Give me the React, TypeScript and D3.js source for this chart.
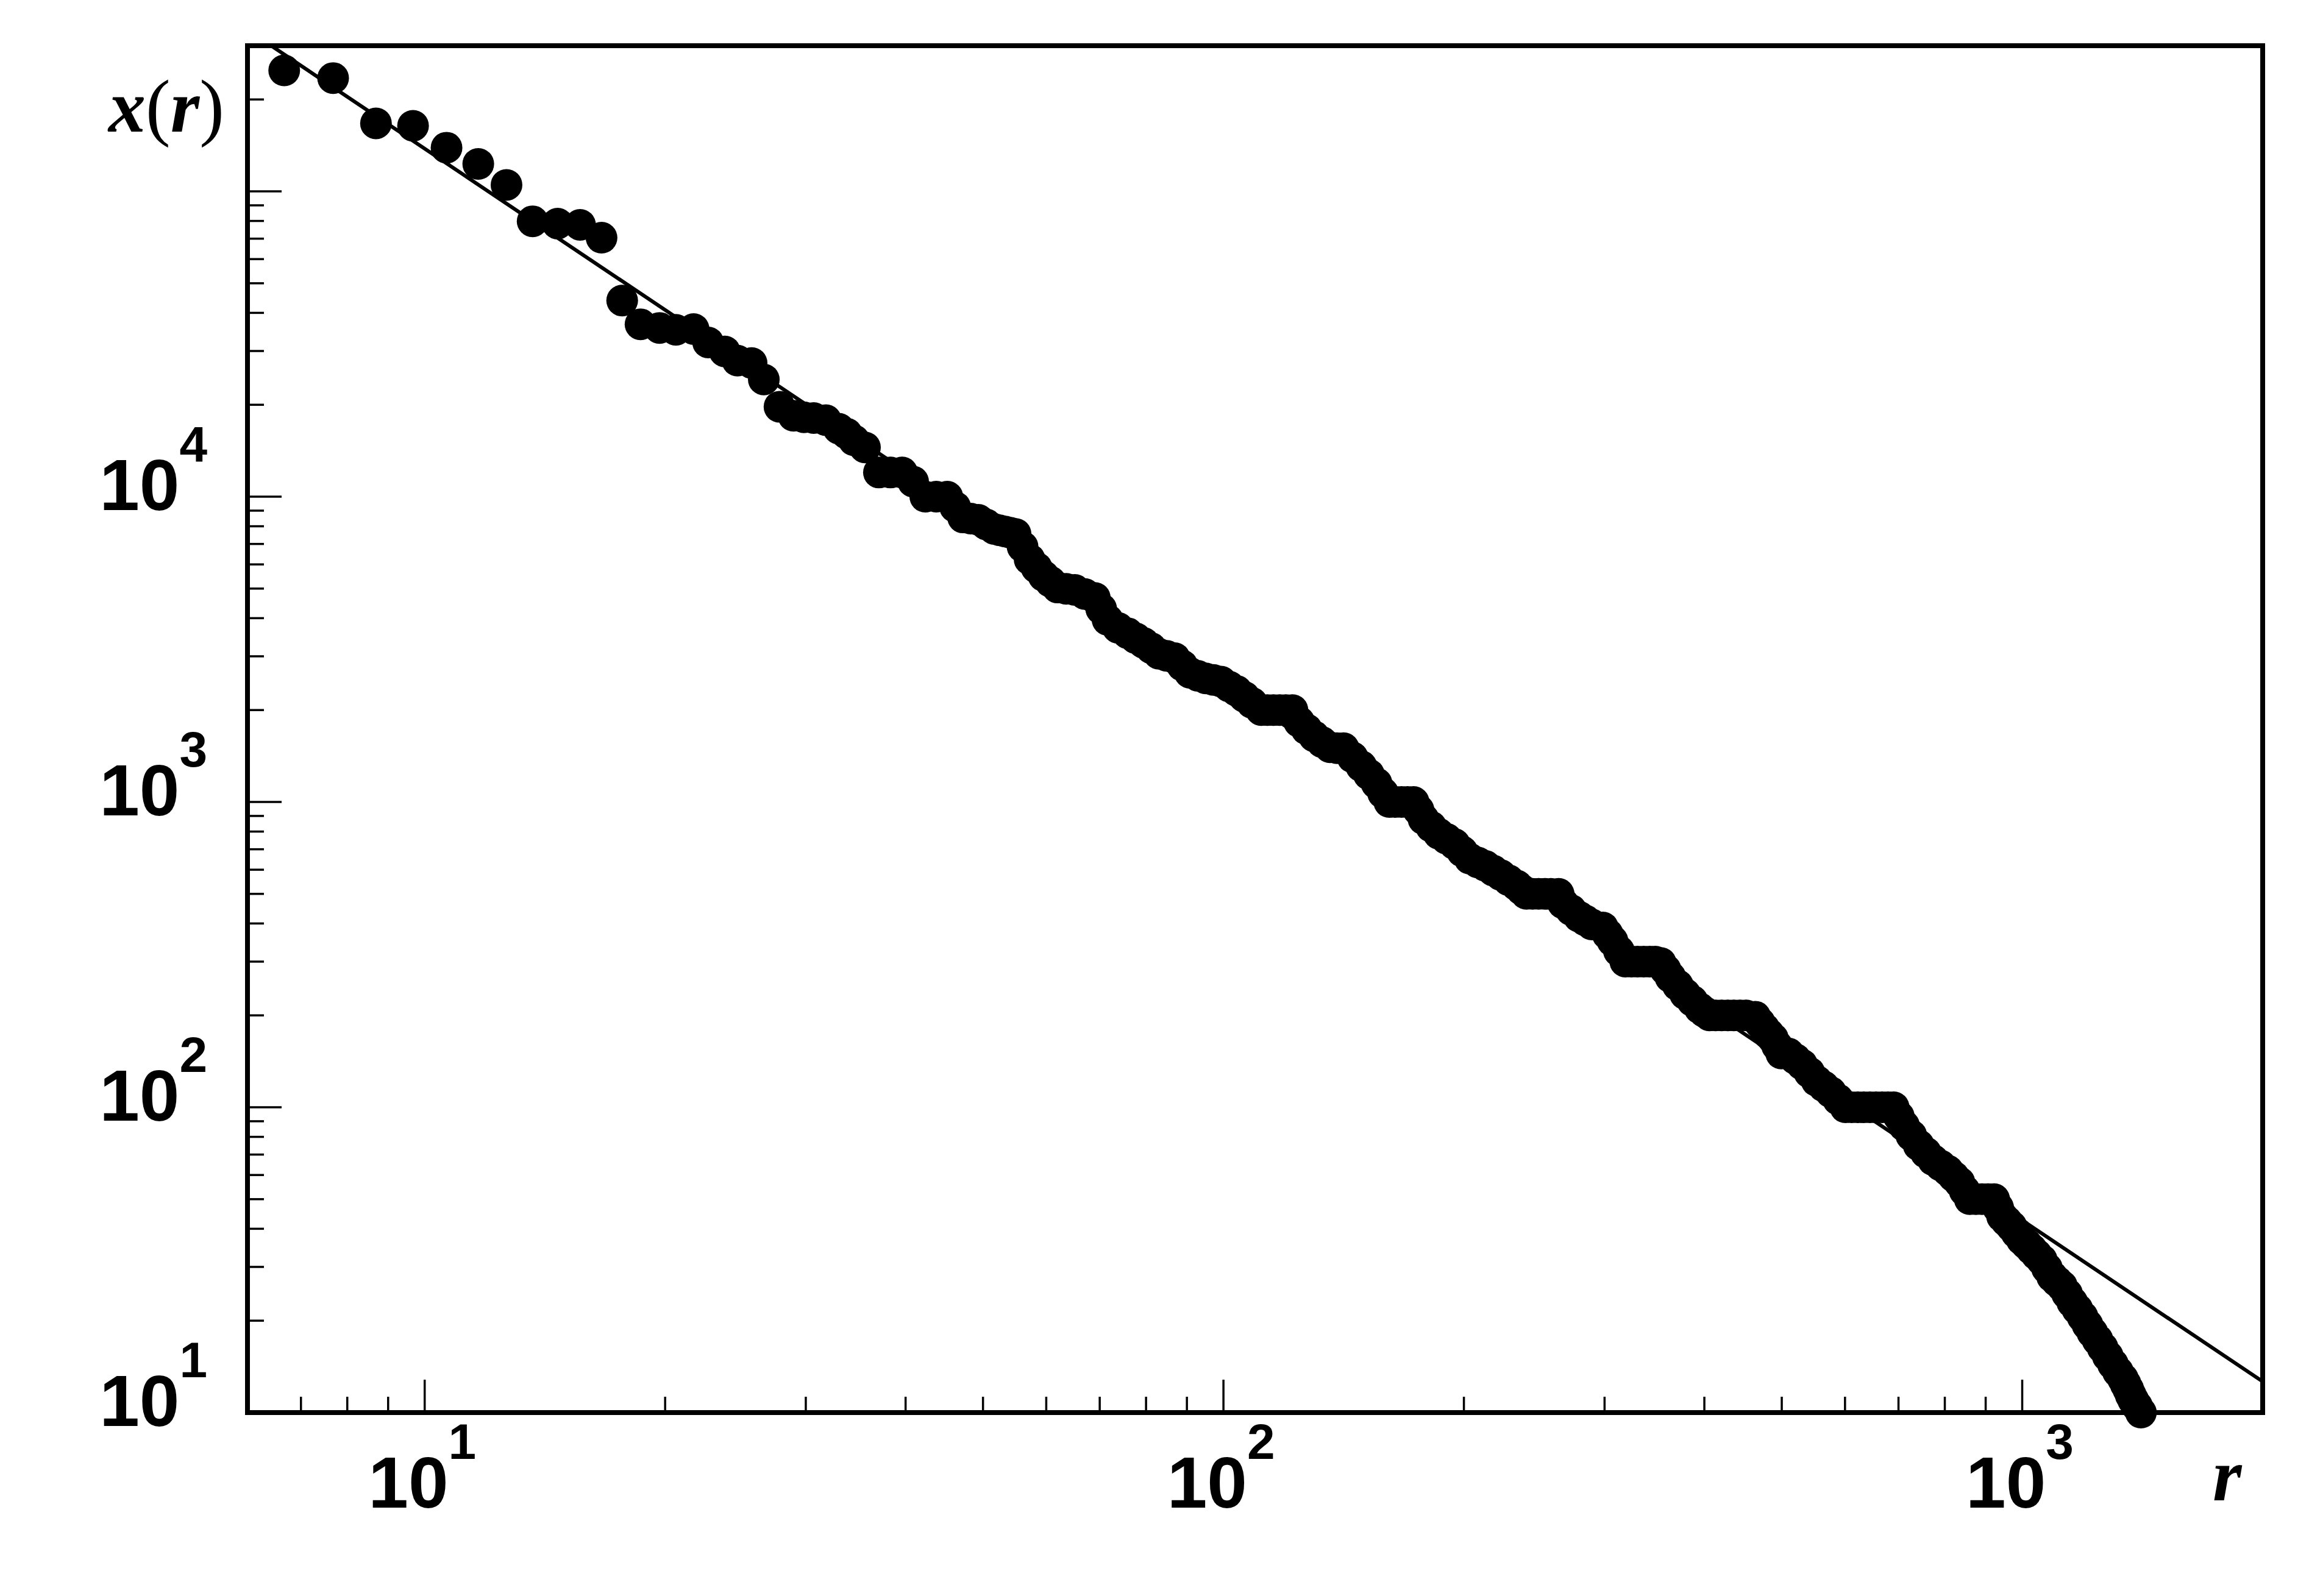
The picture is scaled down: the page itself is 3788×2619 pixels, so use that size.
import React from 'react';
import * as d3 from 'd3';

// Rank r (x axis) and size x(r) (y axis)
const ranks = [
  6.67, 7.68, 8.69, 9.67, 10.65, 11.67, 12.66, 13.65, 14.67, 15.65, 16.65,
  17.67, 18.63, 19.68, 20.63, 21.71, 22.64, 23.75, 24.64, 25.66, 26.58,
  27.81, 28.96, 29.84, 30.69, 31.79, 32.99, 33.75, 34.47, 35.58, 37.04,
  38.3, 39.6, 40.88, 42.34, 43.7, 45.11, 46.15, 47.21, 48.26, 49.33,
  50.47, 51.64, 52.46, 53.3, 54.1, 54.92, 56.04, 57.19, 58.36, 59.55,
  60.76, 62.0, 63.55, 65.13, 67.05, 69.02, 70.3, 71.6, 73.78, 75.89,
  77.64, 79.43, 81.19, 82.99, 84.91, 86.87, 88.8, 90.77, 92.87, 95.02,
  97.14, 99.3, 101.6, 103.9, 106.2, 108.6, 111.5, 113.5, 115.5, 117.6,
  119.7, 122.0, 124.4, 127.1, 129.9, 132.9, 136.0, 138.7, 141.4, 145.1,
  148.8, 152.1, 155.5, 158.4, 161.3, 164.2, 167.1, 170.0, 173.0, 175.5,
  178.0, 182.0, 186.0, 190.3, 194.7, 199.0, 203.4, 208.1, 212.9, 217.6,
  222.5, 227.6, 232.9, 236.2, 239.5, 243.8, 248.1, 252.5, 256.9, 262.8,
  266.1, 272.3, 278.7, 283.9, 289.2, 298.5, 302.7, 306.9, 312.7, 318.5,
  324.2, 329.9, 335.8, 341.7, 347.2, 352.7, 357.7, 362.7, 370.5, 378.4,
  386.5, 394.7, 400.3, 405.9, 413.1, 420.4, 428.0, 435.5, 443.3, 451.1,
  463.2, 469.3, 475.5, 481.4, 487.4, 493.3, 499.3, 510.0, 519.9, 530.1,
  541.4, 553.0, 564.4, 576.0, 588.3, 600.8, 611.5, 622.3, 633.4, 644.6,
  656.1, 667.7, 679.0, 690.3, 700.7, 711.2, 726.3, 741.8, 757.6, 773.7,
  790.2, 807.1, 820.7, 834.4, 847.0, 859.7, 874.9, 890.4, 906.2, 922.2,
  932.9, 943.6, 956.2, 969.0, 983.6, 998.3, 1012.6, 1027, 1042.4, 1058,
  1073.9, 1090, 1105.4, 1121, 1138, 1155, 1172.4, 1190, 1206.9, 1224,
  1242.4, 1261, 1279.9, 1299, 1317.9, 1337, 1347.4, 1358, 1367.5, 1377,
  1392.4, 1408,
];
const sizes = [
  249000, 235000, 167000, 164000, 139000, 123000, 105000, 79800, 78400, 77700, 70500,
  43900, 36700, 35700, 35200, 35400, 32000, 29900, 27900, 27400, 24200,
  19700, 18400, 18200, 18100, 17800, 16700, 16100, 15300, 14500, 12000,
  12000, 12000, 11200, 10000, 10000, 10000, 9250, 8550, 8480, 8400,
  8110, 7840, 7760, 7690, 7620, 7550, 6860, 6230, 5850, 5500,
  5260, 5040, 4990, 4950, 4800, 4660, 4290, 3950, 3720, 3570,
  3440, 3320, 3190, 3060, 3010, 2960, 2800, 2650, 2590, 2540,
  2510, 2480, 2390, 2310, 2210, 2110, 2000, 2000, 2000, 2000,
  2000, 2000, 1830, 1730, 1640, 1570, 1510, 1500, 1500, 1400,
  1310, 1230, 1150, 1070, 1000, 1000, 1000, 1000, 1000, 940,
  879, 830, 787, 757, 728, 689, 652, 634, 617, 596,
  576, 554, 533, 516, 500, 500, 500, 500, 500, 500,
  466, 443, 421, 409, 397, 388, 369, 351, 325, 300,
  300, 300, 300, 300, 300, 297, 282, 267, 251, 235,
  223, 211, 205, 200, 200, 200, 200, 200, 200, 200,
  198, 189, 181, 174, 168, 159, 150, 150, 144, 138,
  130, 122, 117, 112, 106, 100, 100, 100, 100, 100,
  100, 100, 100, 100, 93.3, 87.1, 80.9, 75.2, 71.0, 67.1,
  64.5, 62.0, 59.3, 56.8, 53.3, 50, 50, 50, 50, 50,
  46.9, 43.9, 42.3, 40.8, 38.8, 36.9, 35.6, 34.3, 32.9, 31.6,
  29.7, 27.9, 26.9, 26.0, 24.5, 23.0, 21.8, 20.6, 19.4, 18.3,
  17.3, 16.3, 15.3, 14.4, 13.6, 12.9, 12.4, 11.9, 11.4, 11.0,
  10.5, 10.0,
];

// Fitted power law x(r) = A * r^b
const fitCoefficient = 7.85e6;
const fitExponent = -1.755;

const xDomain = [6, 2000];
const yDomain = [10, 300000];
const xLabelExponents = [1, 2, 3];
const yLabelExponents = [1, 2, 3, 4];

export default function App() {
  const W = 3788;
  const H = 2619;
  const left = 406, right = 3712, top = 75, bottom = 2318;

  const x = d3.scaleLog().domain(xDomain).range([left, right]);
  const y = d3.scaleLog().domain(yDomain).range([bottom, top]);

  const isMajor = (v: number) => Math.abs(Math.log10(v) - Math.round(Math.log10(v))) < 1e-9;
  const xTicks = x.ticks();
  const yTicks = y.ticks();

  const fitData: [number, number][] = xDomain.map((r) => [r, fitCoefficient * Math.pow(r, fitExponent)]);
  const fitLine = d3.line<[number, number]>().x((d) => x(d[0])).y((d) => y(d[1]));

  const points = ranks.map((r, i) => ({ r, v: sizes[i] }));

  const numFont = "'Liberation Sans', Arial, Helvetica, sans-serif";
  const serif = "'Liberation Serif', 'Times New Roman', Times, serif";

  return (
    <svg
      width={W}
      height={H}
      viewBox={`0 0 ${W} ${H}`}
      style={{ position: 'absolute', left: 0, top: 0, display: 'block', background: '#fff' }}
    >
      <defs>
        <clipPath id="plotClip">
          <rect x={left} y={top} width={right - left} height={bottom - top} />
        </clipPath>
      </defs>
      <rect x={0} y={0} width={W} height={H} fill="#fff" />

      {/* fit line */}
      <path d={fitLine(fitData) || ''} fill="none" stroke="#000" strokeWidth={6} clipPath="url(#plotClip)" />

      {/* data markers */}
      <g fill="#000">
        {points.map((p, i) => (
          <circle key={i} cx={x(p.r)} cy={y(p.v)} r={26} />
        ))}
      </g>

      {/* ticks */}
      <g stroke="#000" strokeWidth={3.5}>
        {yTicks.map((t, i) => (
          <line key={i} x1={left} x2={left + (isMajor(t) ? 56 : 27)} y1={y(t)} y2={y(t)} />
        ))}
        {xTicks.map((t, i) => (
          <line key={'x' + i} x1={x(t)} x2={x(t)} y1={bottom} y2={bottom - (isMajor(t) ? 54 : 26)} />
        ))}
      </g>

      {/* frame */}
      <rect x={left} y={top} width={right - left} height={bottom - top} fill="none" stroke="#000" strokeWidth={8} />

      {/* tick labels */}
      <g fontFamily={numFont} fontWeight="bold" fill="#000">
        {yLabelExponents.map((e) => (
          <text key={e} x={340} y={y(Math.pow(10, e)) + 22} textAnchor="end" fontSize={118}>
            10
            <tspan dy={-80} fontSize={82}>{e}</tspan>
          </text>
        ))}
        {xLabelExponents.map((e) => (
          <text key={'x' + e} x={x(Math.pow(10, e)) - 4} y={bottom + 156} textAnchor="middle" fontSize={118}>
            10
            <tspan dy={-80} fontSize={82}>{e}</tspan>
          </text>
        ))}
      </g>

      {/* axis titles */}
      <text x={178} y={216} fontFamily={serif} fontSize={122} fill="#000">
        <tspan fontStyle="italic" fontWeight="bold">x</tspan>
        <tspan>(</tspan>
        <tspan fontStyle="italic" fontWeight="bold">r</tspan>
        <tspan>)</tspan>
      </text>
      <text x={3630} y={2462} fontFamily={serif} fontSize={122} fontStyle="italic" fontWeight="bold" fill="#000">
        r
      </text>
    </svg>
  );
}
